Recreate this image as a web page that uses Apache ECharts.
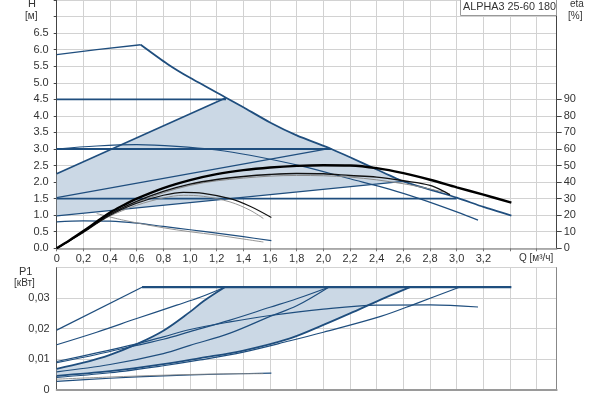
<!DOCTYPE html>
<html><head><meta charset="utf-8">
<script src="https://cdn.jsdelivr.net/npm/echarts@6/dist/echarts.min.js"></script>
<style>html,body{margin:0;padding:0;background:#fff}#c{width:594px;height:395px}</style>
</head><body><div id="c"></div>
<script>
// ---------- DATA (Q in m3/h) ----------
// Head curves H [m]
const maxCurve = [[0,5.85],[0.3,6.0],[0.63,6.15],[0.83,5.57],[1.0,5.15],[1.27,4.55],[1.4,4.26],[1.6,3.8],[1.8,3.41],[2.06,3.0],[2.2,2.75],[2.4,2.38],[2.6,2.02],[2.8,1.77],[3.0,1.53],[3.2,1.25],[3.41,0.99]];
const cp3 = [[0,4.5],[1.27,4.5]];
const cp2 = [[0,3.0],[2.06,3.0]];
const cp1 = [[0,1.5],[3.0,1.5]];
const pp3 = [[0,2.25],[1.27,4.55]];
const pp2 = [[0,1.53],[2.03,3.0]];
const pp1 = [[0,0.98],[2.6,2.02]];
const speed2 = [[0,3.0],[0.3,3.09],[0.6,3.13],[0.9,3.08],[1.2,2.97],[1.45,2.81],[1.83,2.49],[2.2,2.1],[2.5,1.78],[2.72,1.5],[3.0,1.1],[3.16,0.85]];
const speed1 = [[0,0.8],[0.2,0.83],[0.4,0.82],[0.6,0.76],[0.8,0.66],[1.0,0.56],[1.2,0.46],[1.4,0.35],[1.61,0.23]];
const speed1b = [[0.3,1.05],[0.5,0.85],[0.8,0.62],[1.0,0.5],[1.2,0.4],[1.4,0.28],[1.55,0.19]];
// Efficiency curves eta [%]
const etaMax = [[0,0],[0.1,5],[0.2,10.4],[0.3,16],[0.4,21.6],[0.5,26],[0.6,30],[0.8,36.4],[1.0,41.2],[1.2,44.8],[1.4,47.2],[1.6,48.8],[1.8,49.8],[2.0,50.2],[2.2,50],[2.4,48.4],[2.6,45.4],[2.8,41.4],[3.0,36.8],[3.2,32.4],[3.41,27.6]];
const etaMid = [[0,0],[0.2,10],[0.4,20.6],[0.6,28.4],[0.8,34.4],[1.0,38.8],[1.2,41.6],[1.4,43.4],[1.6,44.6],[1.8,45.2],[2.0,45],[2.2,44],[2.4,43],[2.6,40.8],[2.8,38],[2.95,32.4]];
const etaGray = [[0.3,15],[0.6,27.6],[1.0,38],[1.4,42.4],[1.8,44],[2.2,43],[2.6,39],[2.9,34]];
const etaLow = [[0,0],[0.2,9.6],[0.4,20],[0.6,27.2],[0.8,32],[0.95,33.8],[1.1,33.2],[1.3,30],[1.45,25.4],[1.61,18.6]];
const etaLowB = [[0.4,19.6],[0.6,26],[0.8,30.4],[0.95,32],[1.1,31.4],[1.3,28],[1.45,23],[1.55,18]];
// Power curves P1 [kW]
const pMax = [[0.64,0.0336],[3.41,0.0336]];
const pSpeed3 = [[0,0.0195],[0.64,0.0336]];
const pCp3 = [[0,0.0147],[0.3,0.0188],[0.6,0.0233],[0.9,0.0277],[1.075,0.0303],[1.26,0.0336]];
const pPp3 = [[0,0.0068],[0.2,0.0088],[0.4,0.0114],[0.6,0.0149],[0.8,0.0193],[1.0,0.0255],[1.1,0.029],[1.26,0.0336]];
const pPp2 = [[0,0.0088],[0.3,0.0115],[0.6,0.0145],[0.8,0.0165],[1.0,0.019],[1.3,0.0228],[1.6,0.027],[1.8,0.0298],[2.04,0.0336]];
const pSpeed2 = [[0,0.0092],[0.3,0.012],[0.6,0.015],[0.8,0.0173],[1.0,0.0197],[1.3,0.0222],[1.6,0.0243],[2.0,0.0264],[2.4,0.0277],[2.8,0.0278],[3.16,0.0271]];
const pCp2 = [[0,0.0058],[0.4,0.0082],[0.8,0.0118],[1.0,0.0145],[1.3,0.0185],[1.6,0.024],[1.8,0.0275],[2.04,0.0336]];
const pPp1 = [[0,0.0045],[0.4,0.006],[0.8,0.0083],[1.075,0.0103],[1.4,0.0128],[1.75,0.0168],[2.0,0.0212],[2.2,0.025],[2.43,0.0295],[2.65,0.0336]];
const pCp1 = [[0,0.004],[0.4,0.0055],[0.8,0.0078],[1.075,0.0097],[1.4,0.0123],[1.75,0.016],[2.0,0.0188],[2.43,0.024],[2.7,0.0283],[3.02,0.0336]];
const pSpeed1 = [[0,0.0027],[0.4,0.0037],[0.8,0.0045],[1.2,0.005],[1.61,0.0054]];
const pSpeed1b = [[0,0.0034],[0.4,0.0041],[0.8,0.0047],[1.2,0.0051],[1.55,0.0052]];
// Axis tick labels
const qLabels = ['0','0,2','0,4','0,6','0,8','1,0','1,2','1,4','1,6','1,8','2,0','2,2','2,4','2,6','2,8','3,0','3,2'];
const hLabels = ['0.0','0.5','1.0','1.5','2.0','2.5','3.0','3.5','4.0','4.5','5.0','5.5','6.0','6.5'];
const etaLabels = ['0','10','20','30','40','50','60','70','80','90'];
const pLabels = ['0','0,01','0,02','0,03'];

// ---------- CHART ----------
const BLUE = '#1f4e7e', FILL = '#cbd8e5', GRID = '#d2d2d2', TXT = '#333', FONT = 'Liberation Sans, Arial, sans-serif';
const chart = echarts.init(document.getElementById('c'), null, {renderer:'canvas'});

function ln(data, color, width, xi, yi, smooth, z) {
  return {type:'line', data:data, xAxisIndex:xi, yAxisIndex:yi, symbol:'none', showSymbol:false,
    smooth: smooth ? smooth : false, lineStyle:{color:color, width:width}, z: z || 3, silent:true, animation:false};
}
function poly(pts, xi, yi) {
  return {type:'custom', xAxisIndex:xi, yAxisIndex:yi, silent:true, z:1, animation:false, data:[[0,0]],
    renderItem:function(params, api){
      return {type:'polygon', shape:{points: pts.map(function(p){return api.coord(p);})}, style:{fill:FILL}};
    }};
}
// shaded AUTOadapt areas built from the curve arrays
const topPoly = [pp1[0]].concat(pp3, maxCurve.filter(function(p){return p[0]>1.27 && p[0]<2.6;}), [pp1[1]]);
const botPoly = pPp3.concat([[2.65,0.0336]], pPp1.slice().reverse());

const lbl = {color:TXT, fontSize:11, fontFamily:FONT};
function qFmt(v){ const i = Math.round(v/0.2); return (Math.abs(v-i*0.2)<1e-6 && i<qLabels.length) ? qLabels[i] : ''; }
const S = 0.35, SM = 0.2;

const option = {
  animation:false,
  grid:[
    {left:56.7, top:-1, width:500, height:249.3},
    {left:56.7, top:267.7, width:500, height:123}
  ],
  xAxis:[
    {gridIndex:0, type:'value', min:0, max:3.75, interval:0.2,
      axisLine:{lineStyle:{color:'#9a9a9a', width:1.5}}, axisTick:{show:true, length:3, lineStyle:{color:'#777'}},
      axisLabel:Object.assign({margin:5, formatter:qFmt, showMaxLabel:false}, lbl),
      splitLine:{show:true, lineStyle:{color:GRID}}},
    {gridIndex:1, type:'value', min:0, max:3.75, interval:0.2,
      axisLine:{lineStyle:{color:'#9a9a9a', width:2}}, axisTick:{show:false}, axisLabel:{show:false},
      splitLine:{show:true, lineStyle:{color:GRID}}}
  ],
  yAxis:[
    {gridIndex:0, type:'value', min:0, max:7.5, interval:0.5, position:'left',
      axisLine:{show:true, lineStyle:{color:'#444'}}, axisTick:{show:true, length:3, lineStyle:{color:'#444'}},
      axisLabel:Object.assign({margin:8, formatter:function(v){const i=Math.round(v/0.5); return i<hLabels.length?hLabels[i]:'';}}, lbl),
      splitLine:{show:true, lineStyle:{color:GRID}}},
    {gridIndex:0, type:'value', min:0, max:150, interval:10, position:'right',
      axisLine:{show:true, lineStyle:{color:'#444'}},
      axisTick:{show:true, length:5, lineStyle:{color:'#444'}, customValues:[0,10,20,30,40,50,60,70,80,90]},
      axisLabel:Object.assign({margin:7, customValues:[0,10,20,30,40,50,60,70,80,90],
        formatter:function(v){const i=Math.round(v/10); return i<etaLabels.length?etaLabels[i]:'';}}, lbl),
      splitLine:{show:false}},
    {gridIndex:1, type:'value', min:0, max:0.04, interval:0.01, position:'left',
      axisLine:{show:true, lineStyle:{color:'#555'}}, axisTick:{show:false},
      axisLabel:Object.assign({margin:7, formatter:function(v){const i=Math.round(v/0.01); return i<pLabels.length?pLabels[i]:'';}}, lbl),
      splitLine:{show:true, lineStyle:{color:GRID}}},
    {gridIndex:1, type:'value', min:0, max:0.04, interval:0.01, position:'right',
      axisLine:{show:true, lineStyle:{color:'#888'}}, axisTick:{show:false}, axisLabel:{show:false}, splitLine:{show:false}}
  ],
  series:[
    poly(topPoly, 0, 0),
    poly(botPoly, 1, 2),
    // top: head curves
    ln(maxCurve.slice(0,3), BLUE, 1.4, 0, 0, false, 4),
    ln(maxCurve.slice(2), BLUE, 1.8, 0, 0, SM, 4),
    ln(cp3, BLUE, 1.8, 0, 0),
    ln(cp2, BLUE, 1.8, 0, 0),
    ln(cp1, BLUE, 1.8, 0, 0),
    ln(pp3, BLUE, 1.6, 0, 0),
    ln(pp2, BLUE, 1.3, 0, 0),
    ln(pp1, BLUE, 1.3, 0, 0),
    ln(speed2, BLUE, 1.2, 0, 0, S),
    ln(speed1, BLUE, 1.2, 0, 0, S),
    ln(speed1b, '#8a8a8a', 0.9, 0, 0, S),
    // efficiency (eta axis)
    ln(etaGray, '#8a8a8a', 1, 0, 1, S, 5),
    ln(etaLowB, '#8a8a8a', 0.9, 0, 1, S, 5),
    ln(etaLow, '#111', 1.1, 0, 1, S, 5),
    ln(etaMid, '#111', 1.4, 0, 1, S, 5),
    ln(etaMax, '#000', 2.4, 0, 1, S, 6),
    // bottom: power curves
    ln(pMax, BLUE, 2.2, 1, 2),
    ln(pSpeed3, BLUE, 1.2, 1, 2),
    ln(pCp3, BLUE, 1.2, 1, 2, S),
    ln(pPp3, BLUE, 1.8, 1, 2, S),
    ln(pPp2, BLUE, 1.2, 1, 2, S),
    ln(pSpeed2, BLUE, 1.2, 1, 2, S),
    ln(pCp2, BLUE, 1.2, 1, 2, S),
    ln(pPp1, BLUE, 1.8, 1, 2, S),
    ln(pCp1, BLUE, 1.2, 1, 2, S),
    ln(pSpeed1, BLUE, 1.2, 1, 2, S),
    ln(pSpeed1b, '#8a8a8a', 0.9, 1, 2, S)
  ],
  graphic:[
    {type:'text', left:28, top:-2, style:{text:'H', fill:TXT, font:'11px '+FONT}},
    {type:'text', left:25, top:11, style:{text:'[м]', fill:TXT, font:'10px '+FONT}},
    {type:'text', left:570, top:-1, style:{text:'eta', fill:TXT, font:'10px '+FONT}},
    {type:'text', left:568, top:11, style:{text:'[%]', fill:TXT, font:'10px '+FONT}},
    {type:'rect', z:100, shape:{x:460.5, y:-1.5, width:96, height:17}, style:{fill:'#fff', stroke:'#999', lineWidth:1}},
    {type:'text', z:101, left:463, top:2, style:{text:'ALPHA3 25-60 180', fill:TXT, font:'10.8px '+FONT}},
    {type:'text', left:519, top:253, style:{text:'Q [м³/ч]', fill:TXT, font:'10px '+FONT}},
    {type:'text', left:19, top:266, style:{text:'P1', fill:TXT, font:'11px '+FONT}},
    {type:'text', left:14, top:278, style:{text:'[кВт]', fill:TXT, font:'10px '+FONT}}
  ]
};
chart.setOption(option);
</script>
</body></html>
